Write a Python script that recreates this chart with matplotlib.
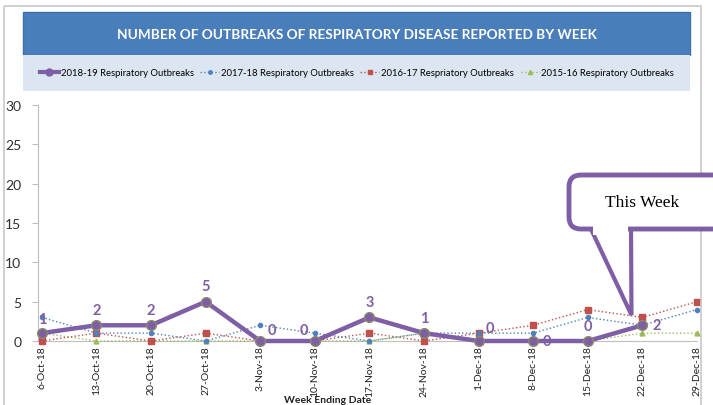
import matplotlib.pyplot as plt
import numpy as np
from matplotlib.patches import Rectangle, FancyBboxPatch, Polygon
from matplotlib.lines import Line2D
from matplotlib.transforms import Affine2D

weeks = ["6-Oct-18", "13-Oct-18", "20-Oct-18", "27-Oct-18", "3-Nov-18", "10-Nov-18",
         "17-Nov-18", "24-Nov-18", "1-Dec-18", "8-Dec-18", "15-Dec-18", "22-Dec-18", "29-Dec-18"]
s1819 = [1, 2, 2, 5, 0, 0, 3, 1, 0, 0, 0, 2]
s1718 = [3, 1, 1, 0, 2, 1, 0, 1, 1, 1, 3, 2, 4]
s1617 = [0, 1, 0, 1, 0, 0, 1, 0, 1, 2, 4, 3, 5]
s1516 = [1, 0, 0, 0, 0, 0, 0, 1, 0, 0, 0, 1, 1]
yticks = [0, 5, 10, 15, 20, 25, 30]

W, H = 713, 406
fig = plt.figure(figsize=(W / 100, H / 100), dpi=100)
fig.patch.set_facecolor("white")
# pixel coords measured from the top-left corner
px = Affine2D().scale(1, -1).translate(0, H)

def fx(p):
    return p / W

def fy(p):
    return 1 - p / H

FONT = "Lato"
purple = "#7E5FA6"
blue = "#4F81BD"
red = "#C0504D"
green = "#9BBB59"

# outer chart border
fig.add_artist(Rectangle((4, 7), 697, 420, transform=px, fill=False, ec="#c8c8c8", lw=1.2))

# title banner and legend band
fig.add_artist(Rectangle((23, 13), 667, 43, transform=px, fc="#4A7EBB", ec="#3f6fa8", lw=1))
fig.add_artist(Rectangle((23, 56), 667, 36, transform=px, fc="#DCE6F2", ec="none"))
fig.text(fx(357), fy(35), "NUMBER OF OUTBREAKS OF RESPIRATORY DISEASE REPORTED BY WEEK",
         color="white", fontsize=9.8, fontweight="bold", ha="center", va="center", family=FONT)

ax = fig.add_axes([fx(38), fy(342), fx(697) - fx(38), fy(106) - fy(342)])
x = np.arange(len(weeks))

ax.plot(x[:len(s1516)], s1516, color=green, ls=":", lw=1, marker="^", ms=3.5, clip_on=False, zorder=3)
ax.plot(x[:len(s1617)], s1617, color=red, ls=":", lw=1, marker="s", ms=4, clip_on=False, zorder=3)
ax.plot(x[:len(s1718)], s1718, color=blue, ls=":", lw=1, marker="o", ms=3, clip_on=False, zorder=3)
ax.plot(x[:len(s1819)], s1819, color=purple, lw=3.2, marker="o", ms=7,
        mfc=purple, mec="#8a8a6a", mew=1, clip_on=False, zorder=4)

offsets = [(0, 5), (0, 6), (0, 6), (0, 6), (5, 3), (-5, 3), (0, 6), (0, 6),
           (5, 4), (7, 0), (0, 6), (7, 0)]
for i, v in enumerate(s1819):
    dx, dy = offsets[i]
    ha = "center" if dx == 0 else ("left" if dx > 0 else "right")
    va = "bottom" if dy > 0 else "center"
    ax.annotate(str(v), (x[i], v), xytext=(dx, dy), textcoords="offset points",
                ha=ha, va=va, color=purple, fontsize=10.5, fontweight="bold",
                family=FONT, zorder=5)

ax.set_xlim(-0.07, len(weeks) - 1)
ax.set_ylim(0, 30)
ax.set_yticks(yticks)
ax.set_xticks(x)
ax.set_xticklabels(weeks, rotation=90, fontsize=7.5, color="#202020", family=FONT)
ax.tick_params(axis="x", length=0, pad=3)
ax.tick_params(axis="y", length=4, color="#bfbfbf", labelsize=10, labelcolor="#303030", pad=8)
for lab in ax.get_yticklabels():
    lab.set_family(FONT)
for s in ["top", "right"]:
    ax.spines[s].set_visible(False)
ax.spines["left"].set_color("#bfbfbf")
ax.spines["bottom"].set_color("#bfbfbf")
ax.patch.set_alpha(0)

fig.text(fx(328), fy(401), "Week Ending Date", fontsize=7.5, fontweight="bold",
         ha="center", va="center", color="#202020", family=FONT)

# legend
handles = [
    Line2D([], [], color=purple, lw=3, marker="o", ms=5),
    Line2D([], [], color=blue, lw=1, ls=":", marker="o", ms=2.5),
    Line2D([], [], color=red, lw=1, ls=":", marker="s", ms=3.5),
    Line2D([], [], color=green, lw=1, ls=":", marker="^", ms=3),
]
labels = ["2018-19 Respiratory Outbreaks", "2017-18 Respiratory Outbreaks",
          "2016-17 Respriatory Outbreaks", "2015-16 Respiratory Outbreaks"]
fig.legend(handles, labels, loc="center", bbox_to_anchor=(fx(357), fy(74)), ncol=4,
           frameon=False, handlelength=2.0, handletextpad=0.2, columnspacing=0.7,
           prop={"family": FONT, "size": 6.8})

# "This Week" callout
tip = ax.transData.transform((len(s1819) - 1 - 0.2, 3.3))
tipx, tipy = tip[0], H - tip[1]
fig.add_artist(Polygon([(590, 228), (631, 228), (tipx, tipy)], closed=True, transform=px,
                       fc="white", ec=purple, lw=3, zorder=10, joinstyle="miter"))
fig.add_artist(FancyBboxPatch((569, 176), 200, 54, boxstyle="round,pad=0,rounding_size=12",
                              transform=px, fc="white", ec=purple, lw=3.5, zorder=11))
fig.add_artist(Rectangle((593, 226), 35, 10, transform=px, fc="white", ec="none", zorder=12))
fig.text(fx(642), fy(203), "This Week", fontsize=12.5, family="Liberation Serif",
         ha="center", va="center", color="black", zorder=13)

fig.savefig("out.png", dpi=100)
